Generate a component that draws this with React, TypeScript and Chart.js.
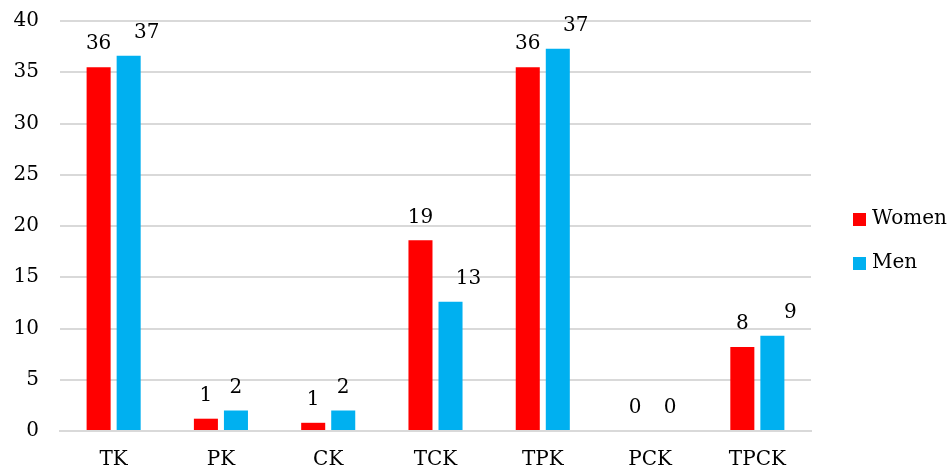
import React, { useEffect, useRef } from "react";
import { Chart, registerables } from "chart.js";

Chart.register(...registerables);

const categories = ["TK", "PK", "CK", "TCK", "TPK", "PCK", "TPCK"];
const women = [35.5, 1.2, 0.8, 18.6, 35.5, 0, 8.2];
const men = [36.6, 2.0, 2.0, 12.6, 37.3, 0, 9.3];
const seriesNames = ["Women", "Men"];
const colors = ["#FF0000", "#00B0F0"];
const yTicks = [0, 5, 10, 15, 20, 25, 30, 35, 40];

const FONT = "'DejaVu Serif', serif";
const FS = 20;

const labelPlugin = {
  id: "valueLabels",
  afterDatasetsDraw(chart: any) {
    const ctx = chart.ctx;
    ctx.save();
    ctx.font = `${FS}px ${FONT}`;
    ctx.fillStyle = "#000";
    ctx.textAlign = "center";
    ctx.textBaseline = "middle";
    chart.data.datasets.forEach((ds: any, di: number) => {
      const meta = chart.getDatasetMeta(di);
      meta.data.forEach((bar: any, i: number) => {
        const v = ds.data[i];
        const shift = di === 1 && v > 5 ? 18 : di === 1 && v === 0 ? 5 : 0;
        ctx.fillText(String(Math.round(v)), bar.x + shift, bar.y - 23);
      });
    });
    ctx.restore();
  },
};

const legendPlugin = {
  id: "customLegend",
  afterDraw(chart: any) {
    const ctx = chart.ctx;
    const area = chart.chartArea;
    ctx.save();
    ctx.font = `${FS}px ${FONT}`;
    ctx.textBaseline = "middle";
    ctx.textAlign = "left";
    const x = area.right + 42;
    const ys = [219, 263];
    seriesNames.forEach((name, i) => {
      ctx.fillStyle = colors[i];
      ctx.fillRect(x, ys[i] - 6, 13, 13);
      ctx.fillStyle = "#000";
      ctx.fillText(name, x + 19, ys[i]);
    });
    ctx.restore();
  },
};

export default function App() {
  const ref = useRef<HTMLCanvasElement | null>(null);
  useEffect(() => {
    if (!ref.current) return;
    const chart = new Chart(ref.current, {
      type: "bar",
      data: {
        labels: categories,
        datasets: [
          { label: seriesNames[0], data: women, backgroundColor: colors[0], categoryPercentage: 0.56, barPercentage: 0.8 },
          { label: seriesNames[1], data: men, backgroundColor: colors[1], categoryPercentage: 0.56, barPercentage: 0.8 },
        ],
      },
      options: {
        animation: false,
        responsive: false,
        maintainAspectRatio: false,
        layout: { padding: { top: 21, right: 141, left: 0, bottom: 0 } },
        plugins: {
          legend: { display: false },
          tooltip: { enabled: false },
        },
        scales: {
          x: {
            grid: { display: false, drawTicks: false },
            border: { color: "#D9D9D9", width: 2 },
            ticks: { color: "#000", font: { family: FONT, size: FS }, padding: 17 },
            afterFit: (s: any) => { s.height = 41; s.paddingLeft = 0; s.paddingRight = 0; },
          },
          y: {
            min: 0,
            max: 40,
            afterBuildTicks: (s: any) => { s.ticks = yTicks.map((v) => ({ value: v })); },
            grid: { color: "#D9D9D9", lineWidth: 2, drawTicks: false },
            border: { display: false },
            ticks: { color: "#000", font: { family: FONT, size: FS }, padding: 21 },
            afterFit: (s: any) => { s.width = 60; s.paddingTop = 0; s.paddingBottom = 0; },
          },
        },
      },
      plugins: [labelPlugin, legendPlugin],
    });
    return () => chart.destroy();
  }, []);
  return (
    <div style={{ position: "fixed", left: 0, top: 0, width: 952, height: 472, background: "#fff" }}>
      <canvas ref={ref} width={952} height={472} style={{ width: 952, height: 472 }} />
    </div>
  );
}
